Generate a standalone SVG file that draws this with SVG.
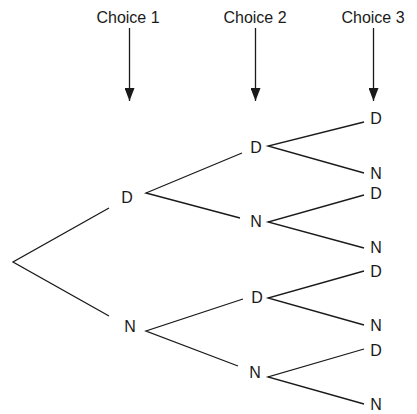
<svg xmlns="http://www.w3.org/2000/svg" width="417" height="414" viewBox="0 0 417 414">
<style>
text{font-family:"Liberation Sans",Arial,sans-serif;font-size:16px;fill:#1a1a1a;text-anchor:middle}
.e{stroke:#1a1a1a;stroke-width:1.3;fill:none}
.a{stroke:#1a1a1a;stroke-width:1.3;fill:none;marker-end:url(#ah)}
</style>
<defs>
<marker id="ah" markerUnits="userSpaceOnUse" markerWidth="13" markerHeight="10" refX="13" refY="5" orient="auto" viewBox="0 0 13 10">
<path d="M0,0 L13,5 L0,10 Z" fill="#1a1a1a"/>
</marker>
</defs>
<rect width="417" height="414" fill="#fff"/>
<g id="headers">
<text x="128" y="23">Choice 1</text>
<text x="255" y="23">Choice 2</text>
<text x="373" y="23">Choice 3</text>
</g>
<g id="arrows">
<line class="a" x1="129.5" y1="28" x2="129.5" y2="101"/>
<line class="a" x1="255.5" y1="28" x2="255.5" y2="101"/>
<line class="a" x1="373.5" y1="28" x2="373.5" y2="101"/>
</g>
<g id="connectors">
<path class="e" d="M109,208 L13,262 L109,316"/>
<path class="e" d="M242,153 L146,193 L240,218"/>
<path class="e" d="M243,299 L146,331 L238,366"/>
<path class="e" d="M364,122 L268,146 L364,173"/>
<path class="e" d="M364,195 L268,222 L364,248"/>
<path class="e" d="M364,271 L268,298 L364,325"/>
<path class="e" d="M364,349 L268,377 L364,404"/>
</g>
<g id="n1"><text x="127" y="203">D</text></g>
<g id="n2"><text x="130" y="332">N</text></g>
<g id="n11"><text x="256" y="153">D</text></g>
<g id="n12"><text x="256" y="227">N</text></g>
<g id="n21"><text x="257" y="303">D</text></g>
<g id="n22"><text x="255" y="378">N</text></g>
<g id="l1"><text x="376" y="124">D</text></g>
<g id="l2"><text x="376" y="179">N</text></g>
<g id="l3"><text x="376" y="199">D</text></g>
<g id="l4"><text x="376" y="253">N</text></g>
<g id="l5"><text x="376" y="277">D</text></g>
<g id="l6"><text x="376" y="331">N</text></g>
<g id="l7"><text x="376" y="356">D</text></g>
<g id="l8"><text x="376" y="410">N</text></g>
</svg>
